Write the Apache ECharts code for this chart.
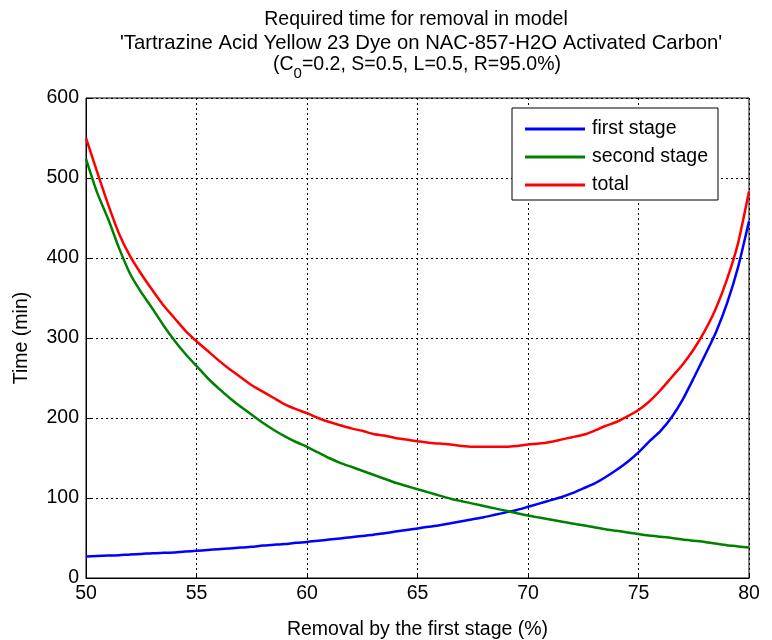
<!DOCTYPE html>
<html>
<head>
<meta charset="utf-8">
<script src="https://cdn.jsdelivr.net/npm/echarts@6/dist/echarts.min.js"></script>
<style>html,body{margin:0;padding:0;background:#fff}#c{width:772px;height:640px}</style>
</head>
<body>
<div id="c"></div>
<script>
var removal = [50,50.5,51,51.5,52,52.5,53,53.5,54,54.5,55,55.5,56,56.5,57,57.5,58,58.5,59,59.5,60,60.5,61,61.5,62,62.5,63,63.5,64,64.5,65,65.5,66,66.5,67,67.5,68,68.5,69,69.5,70,70.5,71,71.5,72,72.5,73,73.5,74,74.5,75,75.5,76,76.5,77,77.5,78,78.5,79,79.5,80];
var firstStage = [27,27.5,28,28.5,29.5,30,31,31.5,32,33,34,35,36,37,38,39,40.5,41.5,42.5,44,45,46.5,48,49.5,51,52.5,54,56,58,60,62,64,66,68.5,71,73.5,76,79,82,85,89,93,97,101,106,112,118,126,135,145,157,171,184,201,223,250,278,307,343,388,446];
var secondStage = [524,482,449,412,380,357,337,316,297,280,265,250,237,225,214,204,194,185,177,170,164,157,150,144,139,134,129,124,119,115,111,107,103,99,96,93,90,87,84,81,78,75.5,73,70.5,68,66,63.5,61,59,57,55,53,51.5,50,48,46.5,45,43,41,39.5,38];
var total = [550,508,467,430,402,380,360,341,325,309,296,284,272,261,251,241,233,225,217,211,206,200,195,191,187,184,180,178,175,173,171,169,168,167,165,164,164,164,164,165,167,168,170,173,176,179,184,190,195,202,210,221,235,251,267,286,309,337,373,418,483];
var seriesNames = ['first stage','second stage','total'];
var xTicks = [50,55,60,65,70,75,80];
var yTicks = [0,100,200,300,400,500,600];

function pairs(ys){ return removal.map(function(x,i){ return [x, ys[i]]; }); }

var FONT = 'Liberation Sans, Arial, sans-serif';
var FS = 19.5;
var chart = echarts.init(document.getElementById('c'), null, {renderer:'canvas'});
var colors = ['#0000ff','#008000','#ff0000'];
var datas = [firstStage, secondStage, total];

chart.setOption({
  animation:false,
  backgroundColor:'#fff',
  textStyle:{fontFamily:FONT},
  graphic:[
    {type:'text', x:416, y:10, style:{text:'Required time for removal in model', fontSize:FS, fontFamily:FONT, fill:'#000', textAlign:'center'}},
    {type:'text', x:421, y:33, style:{text:"'Tartrazine Acid Yellow 23 Dye on NAC-857-H2O Activated Carbon'", fontSize:20.3, fontFamily:FONT, fill:'#000', textAlign:'center'}},
    {type:'text', x:417, y:55, style:{text:'{a|(C}{s|0}{a|=0.2, S=0.5, L=0.5, R=95.0%)}', textAlign:'center', fill:'#000',
      rich:{a:{fontSize:FS, fontFamily:FONT, fill:'#000', verticalAlign:'top', lineHeight:22},
            s:{fontSize:15, fontFamily:FONT, fill:'#000', verticalAlign:'top', padding:[11,0,0,0], lineHeight:22}}}}
  ],
  grid:{left:86, right:23, top:98, bottom:62, show:true, borderColor:'#000', borderWidth:1, backgroundColor:'#fff', containLabel:false, outerBoundsMode:'none'},
  legend:{
    orient:'vertical', left:512, top:108, data:seriesNames,
    backgroundColor:'#fff', borderColor:'#000', borderWidth:1,
    padding:[10,10,4,13], itemGap:6, itemWidth:60, itemHeight:3, icon:'rect',
    textStyle:{fontSize:FS, fontFamily:FONT, color:'#000', padding:[0,0,0,2], lineHeight:22}
  },
  xAxis:{
    type:'value', min:50, max:80, interval:5,
    name:'Removal by the first stage (%)', nameLocation:'middle', nameGap:42,
    nameTextStyle:{fontSize:FS, fontFamily:FONT, color:'#000'},
    axisLine:{show:true, lineStyle:{color:'#000', width:1}},
    axisTick:{show:true, inside:true, length:5, lineStyle:{color:'#000'}},
    axisLabel:{fontSize:FS, fontFamily:FONT, color:'#000', margin:6, formatter:function(v){return xTicks.indexOf(v)>=0?String(v):'';}},
    splitLine:{show:true, lineStyle:{color:'#000', type:[2,3], width:1}}
  },
  yAxis:{
    type:'value', min:0, max:600, interval:100,
    name:'Time (min)', nameLocation:'middle', nameGap:54, nameRotate:90,
    nameTextStyle:{fontSize:FS, fontFamily:FONT, color:'#000'},
    axisLine:{show:true, lineStyle:{color:'#000', width:1}},
    axisTick:{show:true, inside:true, length:5, lineStyle:{color:'#000'}},
    axisLabel:{fontSize:FS, fontFamily:FONT, color:'#000', margin:7, formatter:function(v){return yTicks.indexOf(v)>=0?String(v):'';}},
    splitLine:{show:true, lineStyle:{color:'#000', type:[2,3], width:1}}
  },
  series: seriesNames.map(function(n,i){
    return {name:n, type:'line', data:pairs(datas[i]), showSymbol:false, symbol:'none', smooth:0.2,
      lineStyle:{color:colors[i], width:2.5}, itemStyle:{color:colors[i]}, clip:true};
  })
});
</script>
</body>
</html>
